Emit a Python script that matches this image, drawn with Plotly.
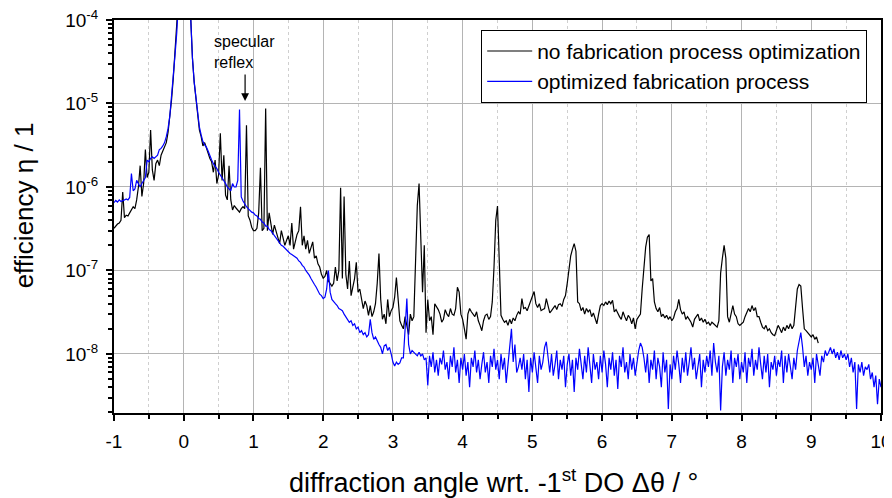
import numpy as np
import plotly.graph_objects as go

# ---------------- data ----------------
angle_start = -1.0
angle_step = 0.025

# no fabrication process optimization  (x = -1.0 ... 9.1, step 0.025)
eta_no_opt = [
    3.2e-7, 3.4e-7, 3.6e-7, 3.7e-7, 4.0e-7, 8.7e-7, 4.3e-7, 4.6e-7, 4.5e-7, 4.9e-7, 5.3e-7, 5.8e-7, 5.5e-7, 7.0e-7, 1.0e-6, 1.8e-6, 7.7e-7, 1.1e-6, 2.8e-6, 1.3e-6,
    1.5e-6, 4.8e-6, 1.6e-6, 1.2e-6, 1.9e-6, 2.1e-6, 1.8e-6, 2.4e-6, 2.7e-6, 3.0e-6, 3.4e-6, 4.5e-6, 6.5e-6, 1.1e-5, 2e-5, 3.8e-5, 7e-5, 1.3e-4, 4e-4, 1.2e-3,
    3e-3, 2.5e-3, 1e-3, 3e-4, 1e-4, 3.5e-5, 1.8e-5, 1.1e-5, 7e-6, 4.8e-6, 4.0e-6, 3.1e-6, 3.4e-6, 2.9e-6, 2.6e-6, 2.2e-6, 2.0e-6, 1.5e-6, 2.1e-6, 1.1e-6,
    1.4e-6, 4.4e-6, 1.2e-6, 2.4e-6, 8e-7, 7e-7, 1.8e-6, 7e-7, 5.3e-7, 6e-7, 5.6e-7, 5.2e-7, 5.0e-7, 5.5e-7, 5.8e-7, 5.5e-7, 5.5e-6, 4.5e-7, 4.0e-7, 3.3e-7,
    3.0e-7, 3.0e-7, 3.2e-7, 4.9e-7, 1.7e-6, 3.0e-7, 3.2e-7, 8.7e-6, 3.0e-7, 4.9e-7, 3.5e-7, 2.7e-7, 3.5e-7, 3.0e-7, 2.5e-7, 2.1e-7, 3.0e-7, 2.4e-7, 2.0e-7, 2.3e-7,
    2.6e-7, 2.0e-7, 3.7e-7, 1.8e-7, 2.2e-7, 2.7e-7, 3.0e-7, 5.8e-7, 2.0e-7, 2.6e-7, 1.8e-7, 2.3e-7, 1.6e-7, 1.9e-7, 2.2e-7, 1.4e-7, 1.5e-7, 1.2e-7, 1.1e-7, 9e-8,
    8.1e-8, 8.5e-8, 1.0e-7, 7.5e-8, 7.0e-8, 6.5e-8, 7.0e-8, 1.1e-7, 7.5e-8, 1.0e-7, 9.8e-7, 8.0e-8, 7.7e-7, 9.0e-8, 6.0e-8, 1.3e-7, 5.0e-8, 6.5e-8, 8.0e-8, 1.25e-7,
    5.5e-8, 6.0e-8, 4.5e-8, 3.5e-8, 4.3e-8, 3.8e-8, 2.9e-8, 3.8e-8, 2.8e-8, 3.2e-8, 4.0e-8, 7.0e-8, 1.6e-7, 4.5e-8, 2.6e-8, 3.0e-8, 2.3e-8, 4.5e-8, 2.8e-8, 3.3e-8,
    3.6e-8, 4.8e-8, 8.2e-8, 4.5e-8, 2.5e-8, 2.2e-8, 2.0e-8, 2.8e-8, 2.2e-8, 1.7e-8, 3.0e-8, 2.5e-8, 2.8e-8, 1.4e-7, 6.0e-7, 1.1e-6, 2.2e-7, 5.5e-8, 2.0e-7, 1.8e-8,
    4.5e-8, 2.5e-8, 2.8e-8, 1.7e-8, 4.0e-8, 3.7e-8, 3.4e-8, 3.0e-8, 2.4e-8, 2.6e-8, 3.4e-8, 3.0e-8, 2.8e-8, 3.5e-8, 3.0e-8, 2.9e-8, 3.5e-8, 6.3e-8, 5.5e-8, 3.0e-8,
    2.6e-8, 2.0e-8, 1.5e-8, 3.0e-8, 3.5e-8, 3.2e-8, 3.0e-8, 2.8e-8, 3.2e-8, 2.5e-8, 2.2e-8, 1.9e-8, 2.5e-8, 2.9e-8, 3.0e-8, 2.6e-8, 2.8e-8, 4.2e-8, 1.1e-7, 4.0e-7,
    5.9e-7, 1.5e-7, 2.9e-8, 2.6e-8, 2.4e-8, 2.5e-8, 2.2e-8, 2.6e-8, 2.3e-8, 2.7e-8, 2.5e-8, 2.9e-8, 3.2e-8, 3.0e-8, 4.6e-8, 3.5e-8, 3.6e-8, 3.3e-8, 3.8e-8, 4.2e-8,
    4.8e-8, 5.6e-8, 4.0e-8, 3.6e-8, 4.0e-8, 3.3e-8, 3.4e-8, 3.5e-8, 4.6e-8, 3.6e-8, 3.1e-8, 3.3e-8, 3.5e-8, 3.8e-8, 3.4e-8, 3.9e-8, 4.0e-8, 3.7e-8, 4.5e-8, 5.0e-8,
    7.0e-8, 1.0e-7, 1.5e-7, 1.8e-7, 2.1e-7, 1.7e-7, 4.2e-8, 4.0e-8, 3.3e-8, 3.6e-8, 3.0e-8, 3.5e-8, 3.2e-8, 3.4e-8, 2.8e-8, 3.1e-8, 2.6e-8, 2.3e-8, 3.0e-8, 3.8e-8,
    4.0e-8, 3.8e-8, 4.2e-8, 3.9e-8, 4.3e-8, 4.0e-8, 4.4e-8, 3.2e-8, 3.4e-8, 3.0e-8, 2.8e-8, 2.6e-8, 3.2e-8, 2.8e-8, 2.5e-8, 2.9e-8, 2.7e-8, 2.3e-8, 2.7e-8, 2.0e-8,
    2.6e-8, 2.8e-8, 3.0e-8, 6.0e-8, 1.1e-7, 1.9e-7, 2.5e-7, 2.7e-7, 7.5e-8, 8.0e-8, 4.2e-8, 3.5e-8, 3.2e-8, 3.6e-8, 2.8e-8, 3.0e-8, 2.7e-8, 2.9e-8, 2.6e-8, 2.8e-8,
    2.5e-8, 2.7e-8, 3.2e-8, 3.5e-8, 4.5e-8, 3.4e-8, 3.0e-8, 3.2e-8, 2.6e-8, 2.8e-8, 2.6e-8, 2.4e-8, 2.1e-8, 2.6e-8, 2.8e-8, 3.0e-8, 2.5e-8, 2.7e-8, 2.4e-8, 2.6e-8,
    2.3e-8, 2.4e-8, 2.2e-8, 2.4e-8, 2.3e-8, 2.2e-8, 2.1e-8, 2.5e-8, 9.3e-8, 1.4e-7, 2.0e-7, 1.4e-7, 2.8e-8, 2.4e-8, 2.9e-8, 3.8e-8, 3.0e-8, 2.8e-8, 2.3e-8, 2.2e-8,
    2.3e-8, 2.4e-8, 2.8e-8, 3.2e-8, 3.5e-8, 3.2e-8, 3.8e-8, 3.3e-8, 3.6e-8, 2.8e-8, 2.8e-8, 2.4e-8, 2.1e-8, 2.0e-8, 2.2e-8, 1.9e-8, 2.0e-8, 1.8e-8, 1.7e-8, 1.66e-8,
    1.9e-8, 2.2e-8, 2.0e-8, 1.8e-8, 2.1e-8, 1.9e-8, 2.2e-8, 2.0e-8, 2.3e-8, 2.0e-8, 2.2e-8, 3.6e-8, 6.0e-8, 6.8e-8, 6.5e-8, 3.5e-8, 2.0e-8, 1.9e-8, 1.8e-8, 1.7e-8,
    1.6e-8, 1.7e-8, 1.5e-8, 1.6e-8, 1.35e-8,
]

# optimized fabrication process  (x = -1.0 ... 10.0, step 0.025)
eta_opt = [
    6.5e-7, 6.9e-7, 6.6e-7, 7.0e-7, 6.7e-7, 6.8e-7, 7.0e-7, 7.2e-7, 7.0e-7, 7.5e-7, 1.45e-6, 9.0e-7, 9.5e-7, 1.2e-6, 1.1e-6, 1.0e-6, 1.1e-6, 1.2e-6, 1.3e-6, 2.1e-6,
    2.0e-6, 2.2e-6, 2.3e-6, 2.2e-6, 2.3e-6, 2.4e-6, 2.8e-6, 2.9e-6, 3.1e-6, 3.4e-6, 4.0e-6, 5.0e-6, 7e-6, 1.15e-5, 2e-5, 3.8e-5, 7e-5, 1.3e-4, 4e-4, 1.2e-3,
    3e-3, 2.5e-3, 1e-3, 3e-4, 1e-4, 3.5e-5, 1.8e-5, 1.15e-5, 7.5e-6, 5.2e-6, 4.2e-6, 3.5e-6, 3.2e-6, 3.0e-6, 2.7e-6, 2.3e-6, 2.1e-6, 1.9e-6, 1.8e-6, 1.66e-6,
    1.5e-6, 1.4e-6, 1.3e-6, 1.2e-6, 1.1e-6, 1.0e-6, 9.5e-7, 9.0e-7, 1.1e-6, 1.0e-6, 1.0e-6, 1.2e-6, 8.5e-6, 7.6e-7, 6.8e-7, 6.2e-7, 5.8e-7, 5.5e-7, 5.2e-7, 5.0e-7,
    4.9e-7, 4.6e-7, 4.5e-7, 4.2e-7, 4.1e-7, 3.8e-7, 3.7e-7, 3.4e-7, 3.4e-7, 3.1e-7, 3.0e-7, 2.8e-7, 2.7e-7, 2.5e-7, 2.3e-7, 2.2e-7, 2.0e-7, 1.95e-7, 1.85e-7, 1.8e-7,
    1.7e-7, 1.6e-7, 1.55e-7, 1.5e-7, 1.45e-7, 1.4e-7, 1.3e-7, 1.25e-7, 1.15e-7, 1.1e-7, 1.0e-7, 9.5e-8, 8.8e-8, 8.0e-8, 7.2e-8, 6.8e-8, 6.3e-8, 5.8e-8, 5.2e-8, 5.0e-8,
    4.6e-8, 4.8e-8, 6.0e-8, 1.0e-7, 5.5e-8, 4.5e-8, 4.2e-8, 4.0e-8, 3.8e-8, 3.5e-8, 3.4e-8, 3.3e-8, 3.0e-8, 2.8e-8, 2.6e-8, 2.4e-8, 2.5e-8, 2.2e-8, 2.3e-8, 2.0e-8,
    2.1e-8, 1.8e-8, 1.9e-8, 1.7e-8, 1.8e-8, 1.6e-8, 1.7e-8, 2.6e-8, 1.8e-8, 1.5e-8, 1.6e-8, 1.4e-8, 1.3e-8, 1.2e-8, 1.0e-8, 1.25e-8, 1.3e-8, 1.1e-8, 1.2e-8, 1.0e-8,
    8.0e-9, 7.2e-9, 8.0e-9, 7.5e-9, 7.8e-9, 9.0e-9, 9.0e-9, 2.0e-8, 4.6e-8, 1.3e-8, 1.0e-8, 1.1e-8, 1.05e-8, 1.0e-8, 9.5e-9, 1.05e-8, 9.5e-9, 1.0e-8, 8.5e-9, 9.0e-9,
    4.2e-9, 9.5e-9, 7.0e-9, 10.5e-9, 6.0e-9, 8.5e-9, 5.5e-9, 9.0e-9, 7.5e-9, 11.0e-9, 6.5e-9, 8.0e-9, 5.0e-9, 9.5e-9, 7.0e-9, 12.0e-9, 6.0e-9, 8.5e-9, 4.5e-9, 9.0e-9,
    6.5e-9, 10.0e-9, 5.5e-9, 8.0e-9, 4.0e-9, 9.0e-9, 7.0e-9, 11.0e-9, 6.0e-9, 8.5e-9, 5.0e-9, 7.5e-9, 10.5e-9, 6.0e-9, 8.0e-9, 4.5e-9, 9.5e-9, 7.0e-9, 11.5e-9, 6.5e-9,
    8.5e-9, 5.0e-9, 10.0e-9, 6.5e-9, 9.0e-9, 4.5e-9, 7.5e-9, 11.0e-9, 20.0e-9, 8.0e-9, 13.0e-9, 6.0e-9, 7.0e-9, 9.0e-9, 6.5e-9, 10.0e-9, 5.0e-9, 8.5e-9, 3.5e-9, 9.0e-9,
    6.0e-9, 10.5e-9, 7.0e-9, 4.5e-9, 9.5e-9, 6.5e-9, 8.0e-9, 12.0e-9, 14.0e-9, 9.0e-9, 6.0e-9, 10.0e-9, 5.5e-9, 7.5e-9, 11.0e-9, 5.0e-9, 8.5e-9, 6.5e-9, 9.5e-9, 4.0e-9,
    7.5e-9, 10.0e-9, 5.5e-9, 8.5e-9, 3.5e-9, 9.0e-9, 6.5e-9, 11.5e-9, 7.0e-9, 5.0e-9, 9.5e-9, 6.0e-9, 12.0e-9, 8.0e-9, 4.5e-9, 10.0e-9, 6.5e-9, 8.0e-9, 5.0e-9, 9.5e-9,
    6.0e-9, 11.0e-9, 7.5e-9, 4.0e-9, 9.0e-9, 6.5e-9, 10.5e-9, 5.5e-9, 8.5e-9, 3.8e-9, 9.5e-9, 7.0e-9, 12.0e-9, 6.0e-9, 8.0e-9, 5.0e-9, 10.0e-9, 6.5e-9, 9.0e-9, 5.5e-9,
    8.0e-9, 11.0e-9, 13.5e-9, 12.0e-9, 9.0e-9, 6.0e-9, 10.0e-9, 4.5e-9, 8.5e-9, 6.5e-9, 11.0e-9, 5.0e-9, 9.0e-9, 7.0e-9, 4.0e-9, 10.5e-9, 6.0e-9, 8.5e-9, 2.2e-9, 7.5e-9,
    5.0e-9, 9.5e-9, 6.5e-9, 11.0e-9, 7.5e-9, 4.5e-9, 9.0e-9, 6.0e-9, 10.5e-9, 5.5e-9, 8.0e-9, 12.0e-9, 6.5e-9, 9.0e-9, 5.0e-9, 7.5e-9, 10.0e-9, 4.0e-9, 8.5e-9, 6.0e-9,
    9.5e-9, 7.0e-9, 11.0e-9, 5.5e-9, 13.5e-9, 8.0e-9, 6.0e-9, 9.5e-9, 2.1e-9, 7.0e-9, 10.5e-9, 5.5e-9, 8.5e-9, 6.5e-9, 11.0e-9, 4.5e-9, 9.0e-9, 7.0e-9, 10.0e-9, 5.0e-9,
    8.0e-9, 6.0e-9, 10.5e-9, 4.5e-9, 9.0e-9, 7.0e-9, 11.5e-9, 5.5e-9, 8.5e-9, 6.5e-9, 12.0e-9, 7.5e-9, 5.0e-9, 9.5e-9, 6.0e-9, 10.0e-9, 4.0e-9, 8.0e-9, 6.5e-9, 9.5e-9,
    5.5e-9, 8.5e-9, 7.0e-9, 11.0e-9, 4.5e-9, 9.5e-9, 6.0e-9, 10.0e-9, 7.5e-9, 5.0e-9, 9.0e-9, 6.5e-9, 11.0e-9, 14.0e-9, 18.0e-9, 12.0e-9, 7.0e-9, 9.5e-9, 5.5e-9, 8.0e-9,
    6.5e-9, 9.0e-9, 4.5e-9, 10.0e-9, 7.0e-9, 5.5e-9, 9.5e-9, 8.0e-9, 11.0e-9, 9.5e-9, 10.5e-9, 12.0e-9, 10.0e-9, 11.5e-9, 9.0e-9, 10.5e-9, 8.5e-9, 11.0e-9, 9.0e-9, 10.0e-9,
    8.5e-9, 10.0e-9, 7.0e-9, 9.0e-9, 6.0e-9, 8.0e-9, 2.2e-9, 7.5e-9, 6.0e-9, 8.0e-9, 5.5e-9, 7.0e-9, 6.5e-9, 7.5e-9, 5.0e-9, 6.0e-9, 4.0e-9, 5.5e-9, 2.5e-9, 5.0e-9,
    4.0e-9,
]

series_names = ["no fabrication process optimization", "optimized fabrication process"]
series_colors = ["#000000", "#0000ff"]

x_tick_vals = list(range(-1, 11))
x_tick_text = [str(v) for v in x_tick_vals]
y_tick_vals = [1e-8, 1e-7, 1e-6, 1e-5, 1e-4]
y_tick_text = ["10<sup>-8</sup>", "10<sup>-7</sup>", "10<sup>-6</sup>", "10<sup>-5</sup>", "10<sup>-4</sup>"]

x_range = [-1, 10]
y_range_log = [-8.707, -4.0]

# ---------------- figure ----------------
angle_no_opt = np.round(angle_start + angle_step * np.arange(len(eta_no_opt)), 4)
angle_opt = np.round(angle_start + angle_step * np.arange(len(eta_opt)), 4)

FONT = "Liberation Sans, Arial, sans-serif"

fig = go.Figure()
fig.add_trace(go.Scatter(x=angle_no_opt, y=eta_no_opt, mode="lines",
                         name=series_names[0], line=dict(color=series_colors[0], width=1.2)))
fig.add_trace(go.Scatter(x=angle_opt, y=eta_opt, mode="lines",
                         name=series_names[1], line=dict(color=series_colors[1], width=1.2)))

minor_y = [k * 10.0 ** e for e in range(-9, -4) for k in range(2, 10)]

# the page body has an 8 px margin, so the figure is 8 px smaller on each axis
fig.update_layout(
    width=884, height=490,
    margin=dict(l=106, r=11, t=12, b=85, autoexpand=False),
    paper_bgcolor="white", plot_bgcolor="white",
    font=dict(family=FONT, color="black", size=18),
    showlegend=True,
    legend=dict(x=0.982, y=0.975, xanchor="right", yanchor="top",
                bgcolor="white", bordercolor="black", borderwidth=1,
                font=dict(size=21, family=FONT), tracegroupgap=0, itemwidth=45),
    xaxis=dict(range=x_range, tickmode="array", tickvals=x_tick_vals, ticktext=x_tick_text,
               ticks="outside", ticklen=6, tickwidth=1.5, tickcolor="black",
               showline=True, linecolor="black", linewidth=2, mirror=True,
               showgrid=True, gridcolor="#b4b4b4", gridwidth=1, automargin=False,
               zeroline=False, tickfont=dict(size=19), ticklabelstandoff=4,
               ticklabeloverflow="allow",
               minor=dict(dtick=0.5, tick0=0, ticks="outside", ticklen=4, tickcolor="black",
                          showgrid=True, gridcolor="#cfcfcf", griddash="dot", gridwidth=1)),
    yaxis=dict(type="log", range=y_range_log, tickmode="array", tickvals=y_tick_vals, ticktext=y_tick_text,
               ticks="outside", ticklen=6, tickwidth=1.5, tickcolor="black",
               showline=True, linecolor="black", linewidth=2, mirror=True,
               showgrid=True, gridcolor="#b4b4b4", gridwidth=1, automargin=False,
               zeroline=False, tickfont=dict(size=19), ticklabelstandoff=4,
               ticklabeloverflow="allow",
               minor=dict(tickmode="array", tickvals=minor_y, ticks="outside", ticklen=4,
                          tickcolor="black", showgrid=False)),
    xaxis2=dict(overlaying="x", side="top", anchor="y", range=x_range, tickmode="array",
                tickvals=x_tick_vals, ticks="inside", ticklen=6, tickwidth=1.5, tickcolor="black",
                showticklabels=False, showgrid=False, zeroline=False, showline=False, automargin=False,
                minor=dict(dtick=0.5, tick0=0, ticks="inside", ticklen=4, tickcolor="black", showgrid=False)),
    yaxis2=dict(overlaying="y", side="right", anchor="x", type="log", range=y_range_log,
                tickmode="array", tickvals=y_tick_vals, ticks="inside", ticklen=6, tickwidth=1.5,
                tickcolor="black", showticklabels=False, showgrid=False, zeroline=False, showline=False,
                automargin=False,
                minor=dict(tickmode="array", tickvals=minor_y, ticks="inside", ticklen=4,
                           tickcolor="black", showgrid=False)),
)

# axis titles
fig.add_annotation(text="diffraction angle wrt. -1<sup>st</sup> DO \u0394\u03b8 / \u00b0",
                   xref="paper", yref="paper", x=0.2256, y=-0.173, xanchor="left", yanchor="middle",
                   showarrow=False, font=dict(size=27, family=FONT))
fig.add_annotation(text="efficiency \u03b7 / 1", textangle=-90,
                   xref="paper", yref="paper", x=-0.117, y=0.529, xanchor="center", yanchor="middle",
                   showarrow=False, font=dict(size=26, family=FONT))

# specular reflex label + arrow
fig.add_annotation(text="specular<br>reflex", xref="x", yref="y", x=0.41, y=-4.13,
                   xanchor="left", yanchor="top", align="left", showarrow=False,
                   font=dict(size=16, family=FONT))
fig.add_annotation(text="", xref="x", yref="y", x=0.88, y=-4.97, ax=0, ay=-28,
                   showarrow=True, arrowhead=2, arrowsize=1.3, arrowwidth=1.2, arrowcolor="black")

fig.write_html("out.html")
